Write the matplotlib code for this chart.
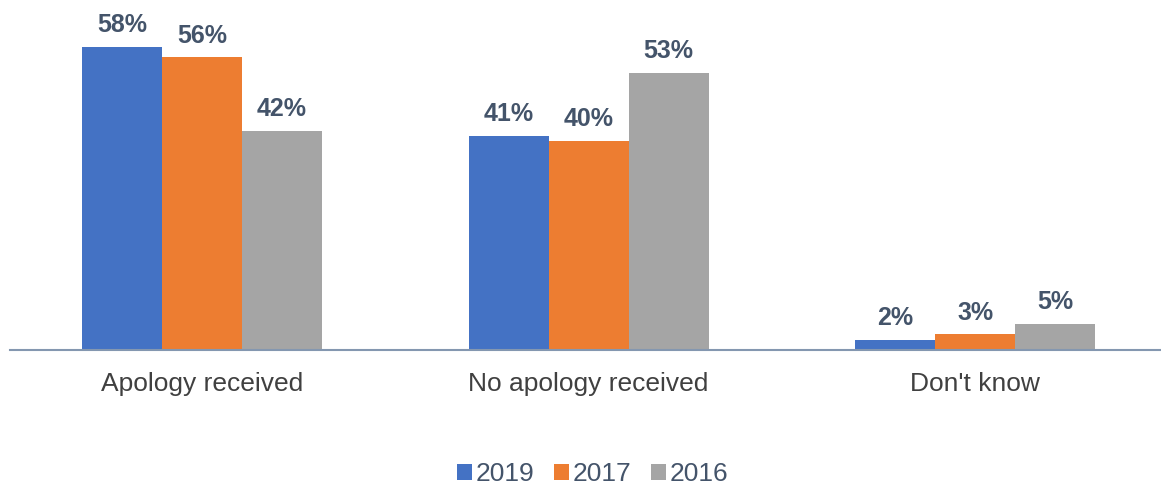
import numpy as np
import matplotlib.pyplot as plt

plt.rcParams['font.family'] = ['Liberation Sans', 'DejaVu Sans']

categories = ["Apology received", "No apology received", "Don't know"]
years = ["2019", "2017", "2016"]
v2019 = [58, 41, 2]
v2017 = [56, 40, 3]
v2016 = [42, 53, 5]
colors = ["#4472C4", "#ED7D31", "#A5A5A5"]

fig = plt.figure(figsize=(11.61, 4.91), dpi=100)
ax = fig.add_axes([10 / 1161, (491 - 350) / 491, 1 - 10 / 1161, 350 / 491])

x = np.arange(len(categories))
w = 0.207
label_col = "#44546A"
for i, (vals, yr, c) in enumerate(zip([v2019, v2017, v2016], years, colors)):
    bars = ax.bar(x + (i - 1) * w, vals, w, color=c, label=yr)
    for b, v in zip(bars, vals):
        ax.annotate(f"{v}%", (b.get_x() + b.get_width() / 2, v),
                    xytext=(0, 7), textcoords="offset points",
                    ha="center", va="bottom", fontsize=18,
                    fontweight="bold", color=label_col)

ax.set_xlim(-0.497, 2.481)
ax.set_ylim(0, 67)
ax.set_yticks([])
ax.set_xticks(x)
ax.set_xticklabels(categories, fontsize=19, color="#404040")
ax.tick_params(axis="x", length=0, pad=16)
for s in ["top", "right", "left"]:
    ax.spines[s].set_visible(False)
ax.spines["bottom"].set_color("#8497B0")
ax.spines["bottom"].set_linewidth(1.5)

fig.legend(loc="center", bbox_to_anchor=(593 / 1161, 1 - 474 / 491), ncol=3,
           frameon=False, fontsize=19, handlelength=0.55, handleheight=0.55,
           handletextpad=0.15, columnspacing=0.75, labelcolor=label_col)

fig.savefig("out.png", dpi=100)
